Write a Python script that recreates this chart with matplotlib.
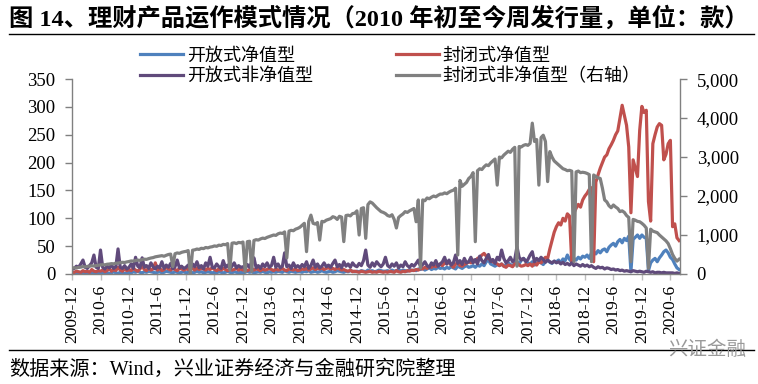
import numpy as np
import pandas as pd
import matplotlib
matplotlib.use('Agg')
import matplotlib.pyplot as plt
from matplotlib.ticker import FuncFormatter, MultipleLocator

plt.rcParams['font.family'] = ['Liberation Serif', 'Noto Sans CJK SC']

# weekly issue counts, sampled every two weeks, 13 points per half-year
tick_labels = ['2009-12', '2010-6', '2010-12', '2011-6', '2011-12', '2012-6', '2012-12',
               '2013-6', '2013-12', '2014-6', '2014-12', '2015-6', '2015-12', '2016-6',
               '2016-12', '2017-6', '2017-12', '2018-6', '2018-12', '2019-6', '2019-12',
               '2020-6']

# 开放式净值型 (left axis)
open_nav = [
    1, 2, 1, 0, 2, 1, 3, 1, 2, 1, 2, 3, 1,
    2, 1, 3, 2, 1, 2, 4, 2, 1, 3, 2, 1, 2,
    3, 2, 4, 3, 5, 3, 2, 4, 3, 5, 4, 3, 2,
    3, 4, 2, 3, 5, 4, 3, 2, 4, 3, 2, 3, 4,
    2, 3, 4, 2, 3, 5, 3, 4, 2, 3, 4, 3, 2,
    3, 2, 4, 3, 2, 3, 5, 3, 2, 4, 3, 2, 3,
    2, 3, 5, 3, 4, 2, 3, 4, 3, 5, 3, 2, 4,
    3, 4, 3, 5, 4, 3, 6, 4, 3, 5, 4, 3, 4,
    4, 3, 5, 4, 6, 3, 4, 5, 3, 4, 6, 4, 3,
    4, 5, 3, 4, 6, 5, 4, 3, 5, 4, 6, 5, 4,
    5, 4, 6, 5, 4, 7, 5, 6, 4, 5, 7, 6, 5,
    5, 6, 4, 7, 5, 6, 8, 5, 7, 6, 5, 8, 6,
    7, 6, 9, 8, 10, 7, 9, 11, 8, 10, 9, 12, 10,
    11, 9, 12, 10, 13, 11, 9, 14, 12, 10, 13, 15, 12,
    13, 15, 12, 16, 14, 18, 15, 22, 25, 18, 16, 14, 17,
    15, 18, 14, 16, 20, 17, 15, 19, 22, 18, 25, 28, 24,
    20, 18, 22, 16, 19, 24, 20, 17, 22, 25, 21, 19, 23,
    22, 25, 20, 27, 24, 34, 26, 22, 28, 25, 30, 27, 32,
    30, 34, 28, 38, 40, 36, 42, 38, 43, 45, 40, 48, 52,
    55, 50, 58, 62, 56, 64, 60, 68, 4, 62, 66, 70, 64,
    70, 66, 64, 6, 20, 25, 28, 22, 29, 34, 40, 43, 38,
    30, 26, 18, 11, 8,
]

# 封闭式净值型 (left axis)
closed_nav = [
    2, 3, 5, 4, 3, 6, 4, 5, 3, 8, 5, 4, 6,
    5, 7, 4, 6, 10, 5, 8, 6, 12, 7, 5, 9, 6,
    8, 6, 10, 7, 5, 9, 14, 8, 6, 11, 7, 9, 20,
    7, 10, 6, 8, 12, 9, 7, 11, 8, 6, 10, 9, 7,
    9, 8, 12, 10, 7, 11, 8, 10, 9, 7, 10, 8, 11,
    8, 6, 9, 7, 10, 8, 6, 9, 7, 8, 10, 7, 9,
    7, 9, 6, 8, 10, 7, 9, 8, 6, 9, 7, 8, 10,
    8, 6, 9, 7, 8, 10, 7, 6, 9, 8, 7, 9, 6,
    7, 9, 8, 10, 7, 9, 11, 8, 10, 9, 11, 8, 10,
    11, 9, 10, 8, 11, 9, 7, 8, 6, 5, 7, 4, 5,
    4, 3, 5, 4, 3, 4, 5, 3, 4, 3, 5, 4, 3,
    4, 3, 5, 4, 3, 6, 4, 3, 5, 4, 6, 5, 7,
    6, 8, 7, 10, 9, 12, 10, 14, 12, 15, 13, 16, 18,
    15, 20, 18, 22, 16, 12, 18, 20, 15, 14, 17, 19, 22,
    20, 25, 22, 28, 30, 34, 37, 32, 28, 25, 22, 20, 18,
    15, 18, 14, 12, 16, 15, 13, 18, 20, 16, 14, 15, 17,
    15, 18, 14, 20, 16, 22, 20, 25, 30, 28, 45, 60, 75,
    85, 92, 88, 100, 95, 108, 104, 22, 110, 118, 125, 120, 133,
    140, 145, 152, 155, 22, 165, 178, 190, 200, 210, 214, 225, 232,
    240, 250, 257, 280, 303, 285, 267, 228, 110, 205, 190, 175, 258,
    301, 290, 294, 130, 95, 234, 250, 264, 270, 267, 205, 215, 234,
    240, 85, 90, 65, 60,
]

# 开放式非净值型 (left axis)
open_non_nav = [
    8, 10, 14, 12, 18, 25, 12, 10, 15, 20, 34, 12, 10,
    43, 12, 9, 14, 11, 16, 10, 13, 45, 12, 10, 15, 9,
    12, 18, 10, 30, 14, 11, 29, 12, 15, 10, 20, 13, 9,
    14, 11, 22, 10, 16, 12, 19, 9, 13, 25, 11, 14, 10,
    12, 16, 10, 18, 13, 22, 11, 15, 9, 20, 14, 30, 12,
    11, 18, 13, 10, 24, 12, 16, 9, 14, 20, 11, 15, 12,
    13, 10, 17, 12, 22, 29, 11, 15, 10, 18, 13, 20, 12,
    15, 30, 12, 18, 11, 14, 38, 13, 16, 10, 20, 12, 15,
    11, 17, 13, 22, 10, 15, 25, 12, 18, 11, 14, 20, 13,
    16, 12, 19, 25, 13, 17, 11, 22, 14, 18, 12, 20, 15,
    13, 19, 15, 24, 43, 16, 12, 20, 14, 22, 17, 13, 18,
    30, 15, 12, 18, 14, 20, 11, 16, 13, 22, 15, 12, 17,
    14, 19, 25, 13, 17, 22, 15, 12, 20, 16, 24, 14, 18,
    22, 30, 18, 25, 16, 20, 34, 19, 24, 17, 28, 20, 22,
    30, 20, 26, 18, 32, 24, 20, 28, 35, 22, 26, 19, 30,
    25, 43, 28, 20, 24, 30, 22, 26, 49, 30, 25, 28, 22,
    26, 34, 40, 22, 28, 24, 30, 26, 21, 25, 22, 20, 23,
    20, 22, 18, 21, 17, 19, 16, 20, 15, 18, 16, 14, 17,
    14, 16, 13, 15, 12, 10, 13, 11, 12, 9, 11, 10, 8,
    9, 7, 8, 6, 7, 5, 6, 5, 4, 6, 5, 4, 5,
    4, 3, 5, 4, 3, 4, 2, 3, 3, 2, 3, 2, 2,
    2, 2, 1, 2, 1,
]

# 封闭式非净值型 (right axis)
closed_non_nav = [
    150, 160, 155, 170, 175, 190, 180, 195, 200, 210, 205, 215, 225,
    230, 240, 235, 250, 255, 265, 260, 275, 280, 290, 300, 295, 310,
    320, 335, 330, 345, 355, 350, 370, 380, 375, 395, 410, 420, 440,
    450, 460, 470, 455, 480, 500, 510, 190, 520, 540, 530, 555, 570,
    580, 600, 0, 610, 620, 640, 630, 660, 650, 680, 670, 690, 700,
    720, 710, 740, 730, 760, 750, 780, 100, 790, 800, 780, 810, 800,
    820, 60, 830, 840, 60, 860, 880, 870, 900, 920, 910, 940, 960,
    980, 1000, 990, 1030, 1050, 1040, 1080, 410, 1100, 1120, 1110, 1150, 1170,
    1200, 1250, 1300, 573, 1350, 1510, 1300, 1280, 1320, 870, 1350, 1340, 1380,
    1400, 1420, 1470, 1450, 1400, 1480, 1460, 830, 1500, 1510, 1490, 1550, 1560,
    1620, 1000, 1680, 1700, 914, 1780, 1850, 1820, 1760, 1700, 1650, 1600, 1580,
    1550, 1500, 1480, 1520, 1400, 1180, 1450, 1500, 1540, 1600, 1580, 1620, 1650,
    1680, 1340, 1900, 154, 1900, 1880, 1950, 1930, 1970, 2000, 1980, 2020, 2050,
    2050, 2080, 2060, 2100, 2130, 2150, 2200, 487, 2400, 2250, 2300, 2350, 2450,
    2500, 2600, 829, 2650, 2700, 2680, 2750, 2800, 2780, 2850, 2900, 2950, 2280,
    3000, 2980, 3050, 3100, 3150, 3120, 3200, 3250, 200, 3270, 3260, 3300, 3320,
    3300, 3350, 3870, 3400, 3450, 2280, 3500, 3560, 3400, 2370, 3140, 3000, 2900,
    2850, 2800, 2750, 2700, 2680, 2650, 2660, 2640, 316, 2620, 2640, 2600, 2610,
    2600, 2580, 2550, 316, 2540, 2500, 2470, 2450, 2200, 1900, 1850, 1750, 1700,
    1770, 1720, 1680, 1600, 1620, 1580, 1500, 1450, 316, 1400, 1380, 1350, 1340,
    1300, 1250, 1180, 145, 1150, 1100, 1080, 1060, 1000, 950, 900, 850, 780,
    650, 500, 400, 330, 380,
]

dates = pd.date_range('2009-12-25', periods=len(open_nav), freq='14D')

fig = plt.figure(figsize=(7.58, 3.84), dpi=100)
ax = fig.add_axes([0.095, 0.2865, 0.802, 0.5075])
ax2 = ax.twinx()

l1, = ax.plot(dates, open_nav, color='#4F81BD', lw=2.3, label='开放式净值型')
l2, = ax.plot(dates, closed_nav, color='#C0504D', lw=2.3, label='封闭式净值型')
l3, = ax.plot(dates, open_non_nav, color='#604A7B', lw=2.3, label='开放式非净值型')
l4, = ax2.plot(dates, closed_non_nav, color='#808080', lw=2.3, label='封闭式非净值型（右轴）')

ax.set_xlim(dates[0], dates[-1] + pd.Timedelta(days=5))
ax.set_ylim(0, 350)
ax2.set_ylim(0, 5000)
ax.yaxis.set_major_locator(MultipleLocator(50))
ax2.yaxis.set_major_locator(MultipleLocator(1000))
ax2.yaxis.set_major_formatter(FuncFormatter(lambda v, p: f'{int(v):,}'))

ax.set_xticks(dates[::13][:len(tick_labels)])
ax.set_xticklabels(tick_labels, rotation=90, fontsize=12.5)

for a in (ax, ax2):
    a.spines['top'].set_visible(False)
    for s in ('left', 'right', 'bottom'):
        a.spines[s].set_color('#808080')
        a.spines[s].set_linewidth(1.0)
    a.tick_params(axis='y', labelsize=13.5, length=5, color='#808080', width=1, pad=7)
ax.spines['right'].set_visible(False)
ax2.spines['left'].set_visible(False)
ax2.spines['bottom'].set_visible(False)
ax.tick_params(axis='x', length=4, color='#BFBFBF', width=1, pad=4)

fig.legend(handles=[l1, l3, l2, l4], ncol=2, loc='upper left',
           bbox_to_anchor=(0.175, 0.895), frameon=False, fontsize=13,
           handlelength=2.4, handletextpad=0.2, columnspacing=4.6,
           labelspacing=0.2, borderaxespad=0)

fig.text(0.012, 0.952, '图 14、理财产品运作模式情况（2010 年初至今周发行量，单位：款）',
         fontsize=17.5, fontweight='bold', va='center', ha='left')
fig.add_artist(plt.Line2D([0.012, 0.995], [0.912, 0.912], color='black', lw=1.0))
fig.add_artist(plt.Line2D([0.012, 0.995], [0.088, 0.088], color='black', lw=1.0))
fig.text(0.012, 0.035, '数据来源：Wind，兴业证券经济与金融研究院整理',
         fontsize=14.5, va='center', ha='left')
fig.text(0.985, 0.09, '兴证金融', fontsize=14, color='#9A9A9A', va='center', ha='right')

fig.savefig('out.png', dpi=100)
